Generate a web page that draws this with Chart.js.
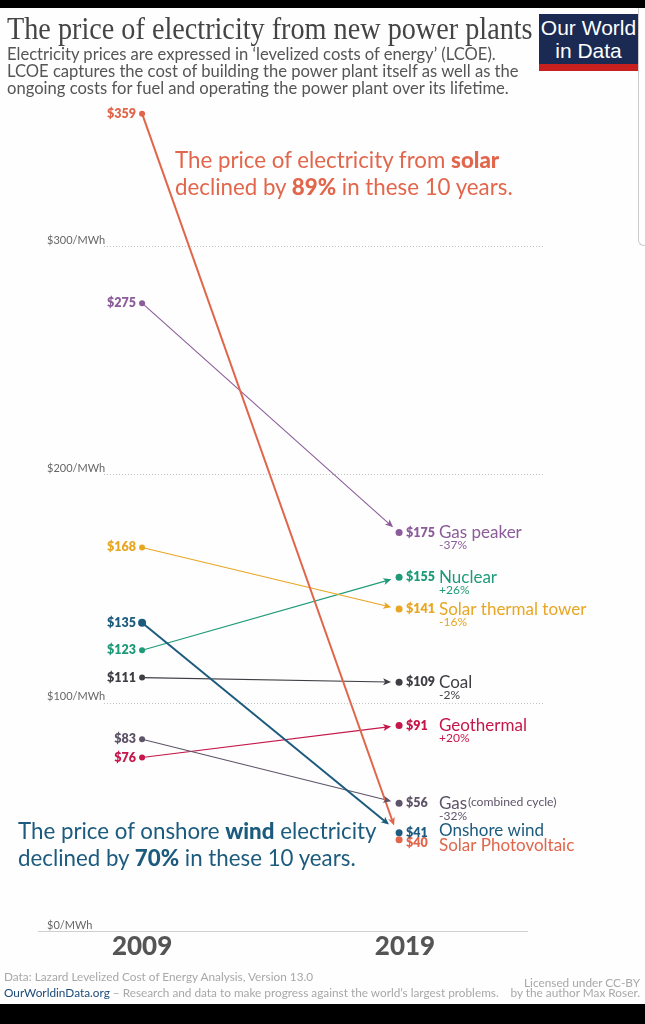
<!DOCTYPE html>
<html>
<head>
<meta charset="utf-8">
<title>The price of electricity from new power plants</title>
<script src="https://cdn.jsdelivr.net/npm/chart.js@4/dist/chart.umd.min.js"></script>
<style>
  html, body { margin: 0; padding: 0; background: #fefefe; }
  body { width: 645px; height: 1024px; position: relative; overflow: hidden; font-family: Lato, sans-serif; }
  canvas { position: absolute; left: 0; top: 0; }
  .abs { position: absolute; white-space: nowrap; }
  .bar { position: absolute; left: 0; width: 645px; background: #000; }
  #titulo { left: 7px; top: 10px; font: 31px/38px "Liberation Serif", serif; color: #444; transform-origin: 0 0; transform: scaleX(0.91); }
  .sub { left: 7px; font-size: 16.6px; line-height: 17px; color: #555; }
  #logo { left: 539px; top: 14px; width: 99px; height: 48px; background: #1a2a52; border-bottom: 7px solid #c8201f;
    color: #fff; font: 21px/23px "Liberation Sans", sans-serif; text-align: center; padding-top: 2px; }
  #borde { right: 0; top: 8px; width: 6px; height: 237px; border-left: 1px solid #ccc; border-bottom: 1px solid #ccc; border-bottom-left-radius: 6px; }
  .nota { font-size: 22.3px; line-height: 27px; }
  .nota b { font-weight: 900; }
  .pie { font-size: 11.8px; color: #a8a8a8; }
</style>
</head>
<body>
<div class="bar" style="top:0;height:8px"></div>
<div class="bar" style="top:1004px;height:20px"></div>
<div class="abs" id="borde"></div>

<canvas id="grafico" width="645" height="1024"></canvas>

<div class="abs" id="titulo">The price of electricity from new power plants</div>
<div class="abs sub" style="top:46px">Electricity prices are expressed in ‘levelized costs of energy’ (LCOE).</div>
<div class="abs sub" style="top:63px">LCOE captures the cost of building the power plant itself as well as the</div>
<div class="abs sub" style="top:80px">ongoing costs for fuel and operating the power plant over its lifetime.</div>
<div class="abs" id="logo">Our World<br>in Data</div>

<div class="abs nota" style="left:175px;top:146px;color:#e2664c">The price of electricity from <b>solar</b><br>declined by <b>89%</b> in these 10 years.</div>
<div class="abs nota" style="left:18px;top:817px;color:#1c5b7e">The price of onshore <b>wind</b> electricity<br>declined by <b>70%</b> in these 10 years.</div>

<div class="abs pie" style="left:4px;top:969px">Data: Lazard Levelized Cost of Energy Analysis, Version 13.0</div>
<div class="abs pie" style="left:4px;top:985px"><span style="color:#1c4a78">OurWorldinData.org</span> – Research and data to make progress against the world’s largest problems.</div>
<div class="abs pie" style="right:5px;top:975px">Licensed under CC-BY</div>
<div class="abs pie" style="right:5px;top:985px">by the author Max Roser.</div>

<script>
const anios = [2009, 2019];
// el rotulo 2019 esta un poco a la derecha de su punto en el original
const ticksAnios = [2009, 2019.23];
const ticksPrecio = [0, 100, 200, 300];

// posiciones: el original mueve un poco algunos puntos para que no se pisen,
// por eso los textos van en arrays aparte
const solar = [358, 40];
const gasPeaker = [275, 174.5];
const solarTermica = [168, 141];
const eolica = [135, 43];
const nuclear = [123, 155];
const carbon = [111, 109];
const gas = [84, 56];
const geotermica = [76, 90];

const textos2009 = ['$359', '$275', '$168', '$135', '$123', '$111', '$83', '$76'];
const textos2019 = ['$40', '$175', '$141', '$41', '$155', '$109', '$56', '$91'];
const nombres = ['Solar Photovoltaic', 'Gas peaker', 'Solar thermal tower', 'Onshore wind', 'Nuclear', 'Coal', 'Gas', 'Geothermal'];
const cambios = ['', '-37%', '-16%', '', '+26%', '-2%', '-32%', '+20%'];

const series = [solar, gasPeaker, solarTermica, eolica, nuclear, carbon, gas, geotermica];
const colores = ['#e0654a', '#8b5c99', '#e8a623', '#1c5b7e', '#1f9a78', '#3e3e44', '#5e5469', '#c4174a'];
const grosores = [2, 1.1, 1.1, 2, 1.1, 1.1, 1.1, 1.1];
const separacion = [15, 8, 8, 13, 8, 8, 8, 8];

const datasets = series.map((valores, i) => ({
    data: valores.map((v, j) => ({ x: anios[j], y: v })),
    borderColor: colores[i],
    backgroundColor: colores[i],
    pointBackgroundColor: colores[i],
    pointBorderWidth: 0,
    pointRadius: [i === 3 ? 4 : 3, 3.5],
    borderWidth: grosores[i],
    segment: {
        // la linea se corta antes del punto final, ahi va la flecha
        borderDash: ctx => {
            const largo = Math.hypot(ctx.p1.x - ctx.p0.x, ctx.p1.y - ctx.p0.y);
            return [largo - separacion[i] - 3, 2000];
        }
    }
}));

const rejilla = {
    id: 'rejilla',
    beforeDatasetsDraw(chart) {
        const c = chart.ctx;
        const y = chart.scales.y;
        c.save();
        c.lineWidth = 1;
        ticksPrecio.forEach(t => {
            const py = Math.round(y.getPixelForValue(t)) + 0.5;
            c.beginPath();
            if (t === 0) {
                c.strokeStyle = '#cfcfcf';
                c.setLineDash([]);
                c.moveTo(38, py);
                c.lineTo(528, py);
            } else {
                c.strokeStyle = '#c4c4c4';
                c.setLineDash([1, 2]);
                c.moveTo(104, py);
                c.lineTo(543, py);
            }
            c.stroke();
        });
        c.restore();
    }
};

const flechasYTextos = {
    id: 'flechasYTextos',
    afterDatasetsDraw(chart) {
        const c = chart.ctx;
        c.save();
        series.forEach((valores, i) => {
            const puntos = chart.getDatasetMeta(i).data;
            const a = puntos[0];
            const b = puntos[1];
            const ang = Math.atan2(b.y - a.y, b.x - a.x);
            const cos = Math.cos(ang);
            const sin = Math.sin(ang);
            const puntaX = b.x - cos * separacion[i];
            const puntaY = b.y - sin * separacion[i];
            c.fillStyle = colores[i];
            c.beginPath();
            c.moveTo(puntaX, puntaY);
            c.lineTo(puntaX - 8 * cos + 3.5 * sin, puntaY - 8 * sin - 3.5 * cos);
            c.lineTo(puntaX - 6 * cos, puntaY - 6 * sin);
            c.lineTo(puntaX - 8 * cos - 3.5 * sin, puntaY - 8 * sin + 3.5 * cos);
            c.closePath();
            c.fill();

            c.textBaseline = 'middle';
            c.font = '800 12.5px Lato';
            c.textAlign = 'right';
            c.fillText(textos2009[i], a.x - 6, a.y);
            c.textAlign = 'left';

            const ajuste = i === 0 ? 3 : 0;
            c.fillText(textos2019[i], b.x + 7, b.y + ajuste);

            c.font = '17px Lato';
            const yNombre = b.y + (i === 0 ? 6 : i === 3 ? -2 : 0);
            c.fillText(nombres[i], 439, yNombre);
            if (nombres[i] === 'Gas') {
                c.font = '12.2px Lato';
                c.fillText('(combined cycle)', 468, yNombre - 1);
            }
            if (cambios[i]) {
                c.font = '12px Lato';
                c.fillText(cambios[i], 439, b.y + 13);
            }
        });
        c.restore();
    }
};

new Chart(document.querySelector('#grafico'), {
    type: 'line',
    data: { datasets },
    plugins: [rejilla, flechasYTextos],
    options: {
        responsive: false,
        devicePixelRatio: 1,
        animation: false,
        layout: { padding: { left: 38, right: 102, top: 100, bottom: 0 } },
        plugins: { legend: { display: false }, tooltip: { enabled: false } },
        scales: {
            x: {
                type: 'linear',
                min: 2004.95,
                max: 2024.6,
                afterBuildTicks: s => { s.ticks = ticksAnios.map(v => ({ value: v })); },
                afterFit: s => { s.height = 93; },
                grid: { display: false },
                border: { display: false },
                ticks: {
                    autoSkip: false,
                    maxRotation: 0,
                    padding: -8,
                    color: '#555',
                    font: { family: 'Lato', size: 26, weight: '900' },
                    callback: v => String(Math.floor(v))
                }
            },
            y: {
                type: 'linear',
                min: 0,
                max: 364,
                afterBuildTicks: s => { s.ticks = ticksPrecio.map(v => ({ value: v })); },
                afterFit: s => { s.width = 0; },
                grid: { display: false },
                border: { display: false },
                ticks: {
                    mirror: true,
                    padding: 9,
                    labelOffset: -6,
                    color: '#666',
                    font: { family: 'Lato', size: 11 },
                    callback: v => '$' + v + '/MWh'
                }
            }
        }
    }
});
</script>
</body>
</html>
